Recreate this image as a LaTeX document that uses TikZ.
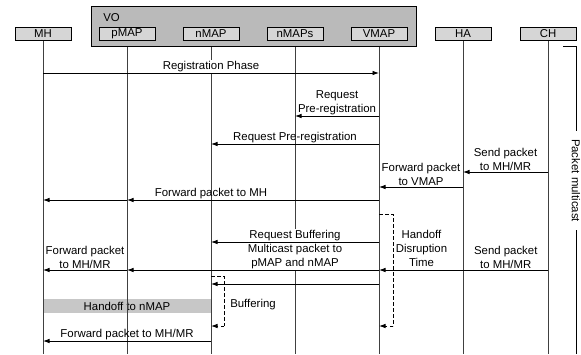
\documentclass[tikz,border=0pt]{standalone}
\usepackage{fontspec}
\setmainfont{Liberation Sans}
\usetikzlibrary{arrows.meta}
\pgfdeclarelayer{background}
\pgfsetlayers{background,main}

\begin{document}
\begin{tikzpicture}[
		x=1pt, y=-1pt,
		every node/.style={font=\fontsize{11.4}{13.5}\selectfont, inner sep=1pt},
		actor/.style={draw, fill=black!16, line width=0.8pt, minimum width=56pt, minimum height=13pt, inner sep=0pt},
		lifeline/.style={draw=black!75, line width=1pt},
		msg/.style={line width=0.8pt, -{Latex[length=6.5pt, width=4.5pt]}},
		lbl/.style={above, align=center},
		lbl_white/.style={lbl, fill=white},
		wait/.style={line width=0.8pt, dash pattern=on 3.5pt off 2.5pt}
	]
  \useasboundingbox (0,0) rectangle (581,354);
  \coordinate (bottom) at (0,354);

  % entities
  \node (MH) [actor] at (43,33.5) {MH};
  \node (pMAP) [actor] at (127,33.5) {pMAP};
  \node (nMAP) [actor] at (211,33.5) {nMAP};
  \node (nMAPs) [actor] at (295,33.5) {nMAPs};
  \node (VMAP) [actor] at (379,33.5) {VMAP};
  \node (HA) [actor] at (463,33.5) {HA};
  \node (CH) [actor] at (548,33.5) {CH};

  \begin{pgfonlayer}{background}
    \node (handoff) [fill=black!22, minimum width=168pt, minimum height=14pt] at (127,306) {Handoff to nMAP};
    \draw[lifeline] (MH.south) -- (MH |- bottom);
    \draw[lifeline] (pMAP.south) -- (pMAP |- bottom);
    \draw[lifeline] (nMAP.south) -- (nMAP |- bottom);
    \draw[lifeline] (nMAPs.south) -- (nMAPs |- bottom);
    \draw[lifeline] (VMAP.south) -- (VMAP |- bottom);
    \draw[lifeline] (HA.south) -- (HA |- bottom);
    \draw[lifeline] (CH.south) -- (CH |- bottom);
    \node (VO) [draw, fill=black!27, line width=0.8pt, minimum width=325pt, minimum height=40pt] at (253.5,26) {};
    \node (VO_label) at (111.5,17.5) {VO};
  \end{pgfonlayer}

  % packet multicast
  \coordinate (pm_tick) at (563,46);
  \coordinate (pm_top) at (576,46);
  \draw[line width=0.8pt] (pm_tick) -- (pm_top) -- (pm_top |- bottom);
  \node (pm) [fill=white, rotate=-90, inner xsep=8pt] at (576,180.5) {Packet multicast};

  % registration
  \coordinate (r1) at (0,73);
  \draw[msg] (MH |- r1) -- node[lbl_white] {Registration Phase} (VMAP |- r1);
  \coordinate (r2) at (0,116);
  \draw[msg] (VMAP |- r2) -- node[lbl] {Request\\Pre-registration} (nMAPs |- r2);
  \coordinate (r3) at (0,144);
  \draw[msg] (VMAP |- r3) -- node[lbl] {Request Pre-registration} (nMAP |- r3);

  % packets before handoff
  \coordinate (r4) at (0,172);
  \draw[msg] (CH |- r4) -- node[lbl] {Send packet\\to MH/MR} (HA |- r4);
  \coordinate (r5) at (0,187);
  \draw[msg] (HA |- r5) -- node[lbl] {Forward packet\\to VMAP} (VMAP |- r5);
  \coordinate (r6) at (0,200);
  \draw[msg] (VMAP |- r6) -- node[lbl, pos=2/3] {Forward packet to MH} (pMAP |- r6);
  \draw[msg] (pMAP |- r6) -- (MH |- r6);

  % handoff
  \coordinate (r7) at (0,242);
  \draw[msg] (VMAP |- r7) -- node[lbl_white] {Request Buffering} (nMAP |- r7);
  \coordinate (r8) at (0,270);
  \draw[msg] (CH |- r8) -- node[lbl, pos=0.25] {Send packet\\to MH/MR} (VMAP |- r8);
  \draw[msg] (VMAP |- r8) -- node[lbl_white, pos=1/3] {Multicast packet to\\pMAP and nMAP} (pMAP |- r8);
  \draw[msg] (pMAP |- r8) -- node[lbl] {Forward packet\\to MH/MR} (MH |- r8);
  \coordinate (r9) at (0,284);
  \draw[msg] (VMAP |- r9) -- (nMAP |- r9);

  \coordinate (hd_top) at (393,214);
  \coordinate (hd_end) at (393,326);
  \draw[wait] (VMAP |- hd_top) -- (hd_top) -- (hd_end);
  \draw[wait, msg] (hd_end) -- (VMAP |- hd_end);
  \node (hd_label) [align=center, font=\fontsize{11.4}{14}\selectfont] at (421.5,248) {Handoff\\Disruption\\Time};

  \coordinate (bf_top) at (224,276);
  \coordinate (bf_end) at (224,326);
  \draw[wait] (nMAP |- bf_top) -- (bf_top) -- (bf_end);
  \draw[wait, msg] (bf_end) -- (nMAP |- bf_end);
  \node (bf_label) at (253,305) {Buffering};

  \coordinate (r10) at (0,341);
  \draw[msg] (nMAP |- r10) -- node[lbl] {Forward packet to MH/MR} (MH |- r10);
\end{tikzpicture}
\end{document}
